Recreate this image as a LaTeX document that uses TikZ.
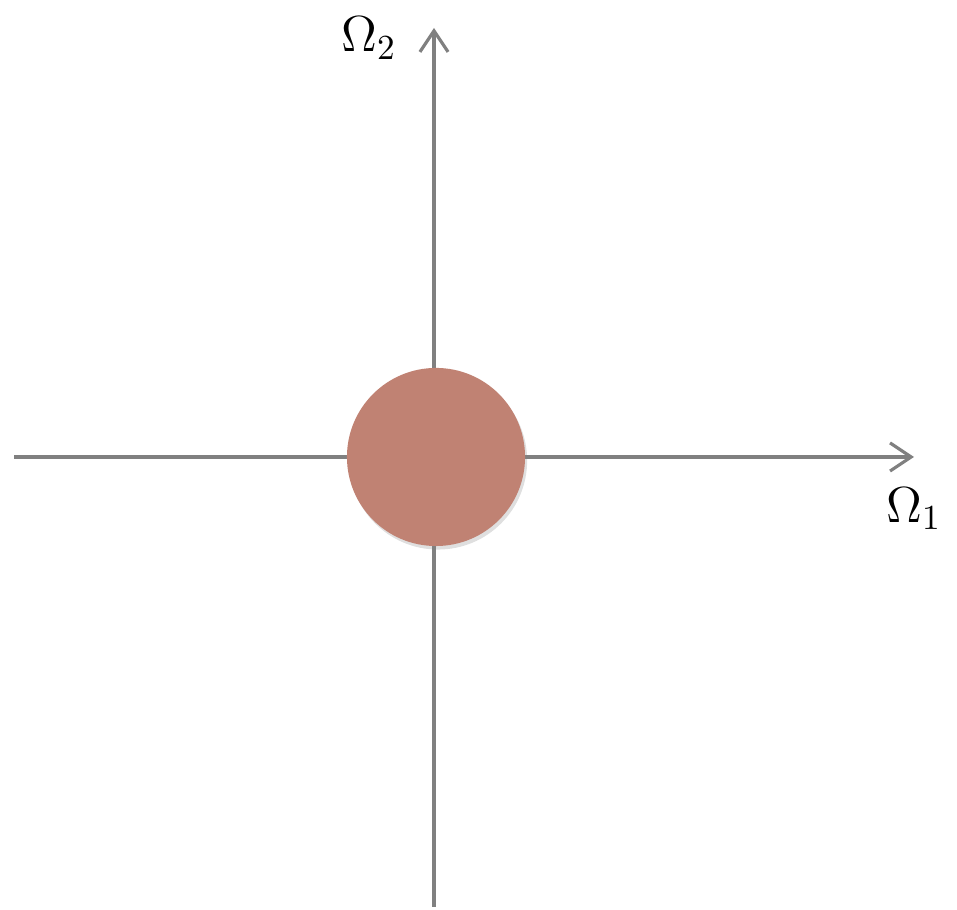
\documentclass[tikz,border=0pt]{standalone}
\usepackage{tikz}
\usetikzlibrary{positioning,arrows.meta,calc,shadows}
\definecolor{axisgray}{HTML}{808080}
\definecolor{rosewood}{HTML}{C08273}

\begin{document}
\begin{tikzpicture}[x=0.01cm, y=0.01cm,
    axis/.style={draw=axisgray, line width=0.9pt},
    disk/.style={circle, fill=rosewood, minimum size=1.78cm, inner sep=0pt,
      drop shadow={opacity=0.25, shadow xshift=0.6pt, shadow yshift=-1pt}}]
        \useasboundingbox (0,0) rectangle (957,910);

        % End points of the axes
        \coordinate (xstart) at (14,453);
        \coordinate (xend) at (914,453);
        \coordinate (ystart) at (434,3);
        \coordinate (yend) at (434,882);

        % Axes
        \draw[axis, -{Straight Barb[length=6pt, width=8pt]}] (xstart) -- (xend);
        \draw[axis, -{Straight Barb[length=6pt, width=8pt]}] (ystart) -- (yend);

        % Disk at the origin
        \node[disk] (origin) at (436,453) {};

        % Labels
        \node[font=\fontsize{14}{16}\selectfont, below=0.18cm of xend] (omegaone) {$\Omega_1$};
        \node[font=\fontsize{14}{16}\selectfont, left=0.25cm of yend, yshift=-0.1cm] (omegatwo) {$\Omega_2$};
      \end{tikzpicture}
\end{document}
